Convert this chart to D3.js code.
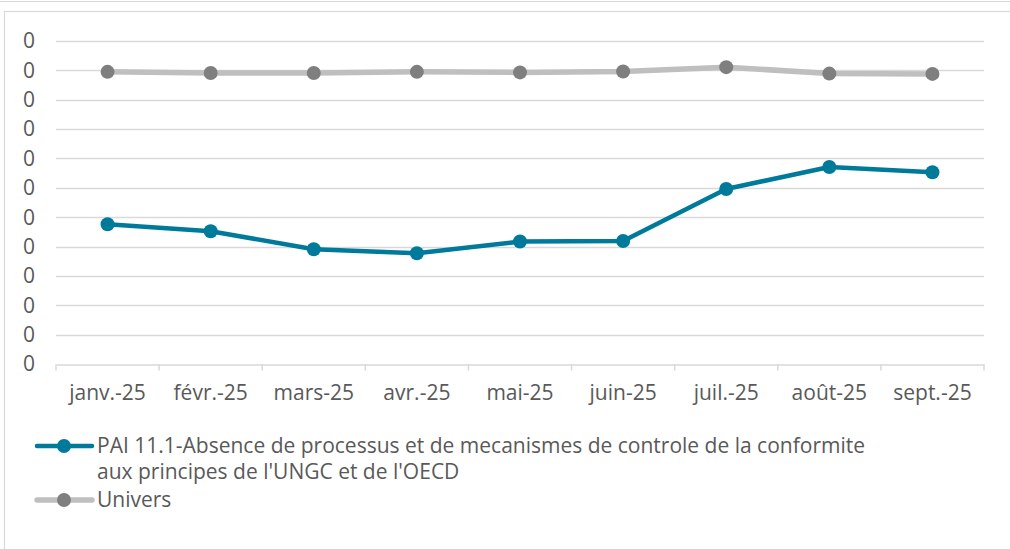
<!DOCTYPE html>
<html>
<head>
<meta charset="utf-8">
<script src="https://cdn.jsdelivr.net/npm/d3@7"></script>
<style>
  html, body { margin: 0; padding: 0; background: #fff; }
  svg { display: block; font-family: "Open Sans", Lato, sans-serif; }
</style>
</head>
<body>
<svg id="chart" width="1010" height="549"></svg>
<script>
// months on the x axis
const months = ["janv.-25", "févr.-25", "mars-25", "avr.-25", "mai-25", "juin-25", "juil.-25", "août-25", "sept.-25"];

// series values (shares, axis labels rounded to 0)
const paiValues = [0.0476, 0.0452, 0.0391, 0.0377, 0.0417, 0.0419, 0.0596, 0.0671, 0.0653];
const universValues = [0.0995, 0.0991, 0.0991, 0.0995, 0.0993, 0.0996, 0.1011, 0.0989, 0.0988];

// y ticks
const yTicks = [0, 0.01, 0.02, 0.03, 0.04, 0.05, 0.06, 0.07, 0.08, 0.09, 0.10, 0.11];

const paiLabel = ["PAI 11.1-Absence de processus et de mecanismes de controle de la conformite",
                  "aux principes de l'UNGC et de l'OECD"];
const universLabel = "Univers";

const series = [
  { name: paiLabel, values: paiValues, line: "#007A9A", dot: "#007A9A", width: 4.5 },
  { name: [universLabel], values: universValues, line: "#BFBFBF", dot: "#7F7F7F", width: 5.5 }
];

const svg = d3.select("#chart");
const textColor = "#595959";
const gridColor = "#D9D9D9";
const fontSize = "21px";

// frames
svg.append("rect")
  .attr("x", -2).attr("y", -40).attr("width", 1020).attr("height", 41.5)
  .attr("fill", "none").attr("stroke", gridColor).attr("stroke-width", 1);
svg.append("rect")
  .attr("x", 4.5).attr("y", 11.5).attr("width", 1020).attr("height", 560)
  .attr("fill", "none").attr("stroke", gridColor).attr("stroke-width", 1.2);

const margin = { left: 56, right: 26, top: 41, bottom: 185 };
const width = 1010, height = 549;

const x = d3.scaleBand()
  .domain(months)
  .range([margin.left, width - margin.right]);

const y = d3.scaleLinear()
  .domain([0, 0.11])
  .range([height - margin.bottom, margin.top]);

// grid
svg.append("g")
  .selectAll("line")
  .data(yTicks.slice(1))
  .join("line")
  .attr("x1", margin.left)
  .attr("x2", width - margin.right)
  .attr("y1", d => Math.round(y(d)) + 0.5)
  .attr("y2", d => Math.round(y(d)) + 0.5)
  .attr("stroke", gridColor)
  .attr("stroke-width", 1.5);

// y labels
svg.append("g")
  .selectAll("text")
  .data(yTicks)
  .join("text")
  .attr("x", 35)
  .attr("y", d => y(d))
  .attr("dy", "0.35em")
  .attr("text-anchor", "end")
  .attr("fill", textColor)
  .style("font-size", fontSize)
  .text(d => d3.format(".0f")(d));

// x axis
const xAxis = d3.axisBottom(x)
  .tickSizeInner(0)
  .tickSizeOuter(0)
  .tickPadding(21);

const gx = svg.append("g")
  .attr("transform", `translate(0,${Math.round(y(0)) + 0.5})`)
  .call(xAxis);
gx.select(".domain").attr("stroke", gridColor).attr("stroke-width", 1.5);
gx.selectAll("text")
  .attr("fill", textColor)
  .style("font-size", fontSize)
  .style("font-family", "'Open Sans', Lato, sans-serif");

// tick marks at category boundaries
const bounds = months.map(m => x(m)).concat([x(months[months.length - 1]) + x.bandwidth()]);
gx.selectAll(".bound")
  .data(bounds)
  .join("line")
  .attr("class", "bound")
  .attr("x1", d => d).attr("x2", d => d)
  .attr("y1", 0).attr("y2", 6)
  .attr("stroke", gridColor)
  .attr("stroke-width", 1.5);

// lines
const lineGen = d3.line()
  .x((d, i) => x(months[i]) + x.bandwidth() / 2)
  .y(d => y(d));

series.slice().reverse().forEach(s => {
  svg.append("path")
    .datum(s.values)
    .attr("fill", "none")
    .attr("stroke", s.line)
    .attr("stroke-width", s.width)
    .attr("stroke-linejoin", "round")
    .attr("d", lineGen);

  svg.append("g")
    .selectAll("circle")
    .data(s.values)
    .join("circle")
    .attr("cx", (d, i) => x(months[i]) + x.bandwidth() / 2)
    .attr("cy", d => y(d))
    .attr("r", 7)
    .attr("fill", s.dot);
});

// legend
const legend = svg.append("g");
const legendRows = [
  { s: series[0], y: 446 },
  { s: series[1], y: 500 }
];
legendRows.forEach(r => {
  legend.append("line")
    .attr("x1", 37).attr("x2", 92)
    .attr("y1", r.y).attr("y2", r.y)
    .attr("stroke", r.s.line)
    .attr("stroke-width", r.s.width)
    .attr("stroke-linecap", "round");
  legend.append("circle")
    .attr("cx", 64).attr("cy", r.y).attr("r", 7)
    .attr("fill", r.s.dot);
  const t = legend.append("text")
    .attr("x", 97)
    .attr("y", r.y)
    .attr("fill", textColor)
    .style("font-size", fontSize);
  r.s.name.forEach((line, i) => {
    t.append("tspan")
      .attr("x", 97)
      .attr("dy", i === 0 ? "0.35em" : "26px")
      .text(line);
  });
});
</script>
</body>
</html>
